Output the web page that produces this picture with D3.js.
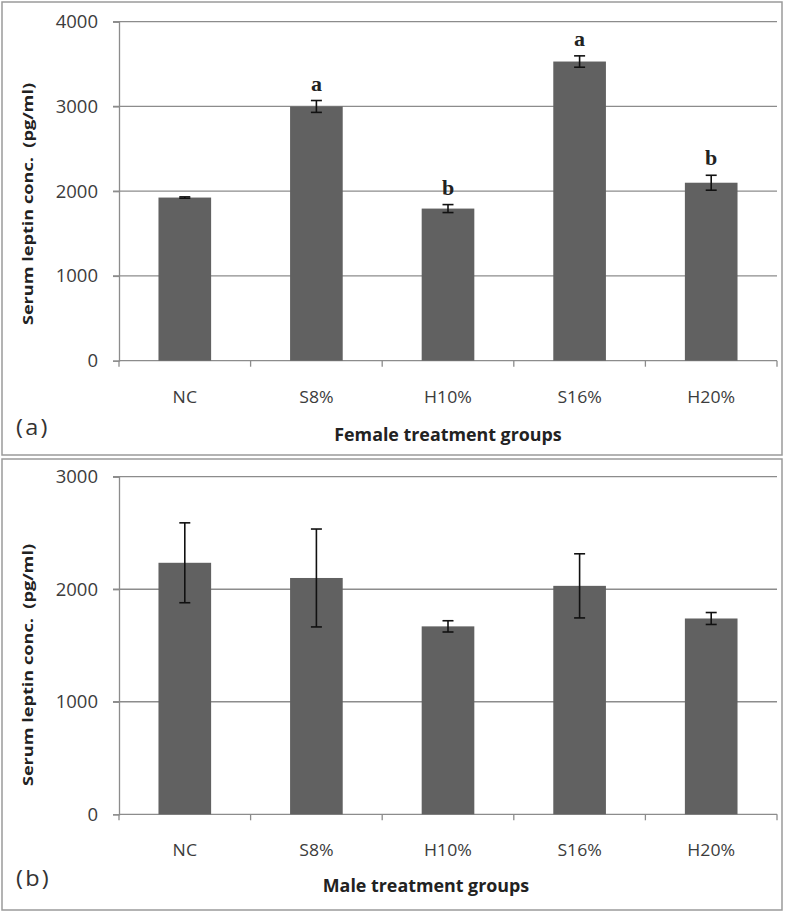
<!DOCTYPE html>
<html><head><meta charset="utf-8">
<script src="https://cdn.jsdelivr.net/npm/d3@7"></script>
<style>html,body{margin:0;padding:0;background:#fff;}svg{display:block;} text{white-space:pre;}</style>
</head><body>
<script>
const categories = ["NC", "S8%", "H10%", "S16%", "H20%"];
const femaleMeans = [1925, 3000, 1795, 3530, 2100];
const femaleErrors = [8, 70, 47, 67, 88];
const femaleLetters = ["", "a", "b", "a", "b"];
const femaleTicks = [0, 1000, 2000, 3000, 4000];
const maleMeans = [2235, 2100, 1670, 2030, 1740];
const maleErrors = [355, 435, 50, 285, 53];
const maleLetters = ["", "", "", "", ""];
const maleTicks = [0, 1000, 2000, 3000];

const W = 787, H = 913;
const svg = d3.select("body").append("svg").attr("width", W).attr("height", H);
const FONT = "'Open Sans', sans-serif";

function panel(cfg) {
  const g = svg.append("g");
  g.append("rect").attr("x", 2).attr("y", cfg.boxTop).attr("width", 780).attr("height", cfg.boxBottom - cfg.boxTop)
    .attr("fill", "#fff").attr("stroke", "#9a9a9a").attr("stroke-width", 1.5);

  const x = d3.scaleBand().domain(categories).range([119, 777]).paddingInner(0.6).paddingOuter(0.3);
  const y = d3.scaleLinear().domain([0, cfg.max]).range([cfg.y0, cfg.y1]);

  g.selectAll("line.grid").data(cfg.ticks.filter(t => t > 0)).enter().append("line")
    .attr("x1", 113).attr("x2", 777).attr("y1", d => y(d)).attr("y2", d => y(d))
    .attr("stroke", "#8c8c8c").attr("stroke-width", 1.3);

  const yAxis = d3.axisLeft(y).tickValues(cfg.ticks).tickSize(6).tickPadding(15).tickFormat(d3.format("d"));
  const ya = g.append("g").attr("transform", "translate(119,0)").call(yAxis)
    .attr("font-family", FONT).attr("font-size", 18.5);
  ya.select(".domain").attr("stroke", "#8c8c8c").attr("stroke-width", 1.3);
  ya.selectAll(".tick line").attr("stroke", "#8c8c8c").attr("stroke-width", 1.3);
  ya.selectAll(".tick text").attr("font-family", FONT).attr("font-size", 18.5).attr("fill", "#3c3c3c");

  const step = x.step();
  const bounds = d3.range(categories.length + 1).map(i => 119 + i * step);
  g.append("line").attr("x1", 119).attr("x2", 777).attr("y1", y(0)).attr("y2", y(0))
    .attr("stroke", "#8c8c8c").attr("stroke-width", 1.3);
  g.selectAll("line.xt").data(bounds).enter().append("line")
    .attr("x1", d => d).attr("x2", d => d).attr("y1", y(0)).attr("y2", y(0) + 6)
    .attr("stroke", "#8c8c8c").attr("stroke-width", 1.3);

  g.selectAll("g.xl").data(categories).enter().append("g")
    .attr("transform", d => `translate(${x(d) + x.bandwidth() / 2},${cfg.xLabelY}) scale(1.07,1)`)
    .append("text").attr("text-anchor", "middle").attr("font-family", FONT).attr("font-size", 16.5)
    .attr("fill", "#3c3c3c").text(d => d);

  g.selectAll("rect.bar").data(cfg.means).enter().append("rect")
    .attr("x", (d, i) => x(categories[i])).attr("width", x.bandwidth())
    .attr("y", d => y(d)).attr("height", d => y(0) - y(d)).attr("fill", "#616161");

  const eb = g.selectAll("g.eb").data(cfg.means).enter().append("g")
    .attr("stroke", "#111").attr("stroke-width", 1.6);
  eb.append("line").attr("x1", (d, i) => x(categories[i]) + x.bandwidth() / 2)
    .attr("x2", (d, i) => x(categories[i]) + x.bandwidth() / 2)
    .attr("y1", (d, i) => y(d + cfg.errors[i])).attr("y2", (d, i) => y(d - cfg.errors[i]));
  [1, -1].forEach(s => {
    eb.append("line").attr("x1", (d, i) => x(categories[i]) + x.bandwidth() / 2 - 5.5)
      .attr("x2", (d, i) => x(categories[i]) + x.bandwidth() / 2 + 5.5)
      .attr("y1", (d, i) => y(d + s * cfg.errors[i])).attr("y2", (d, i) => y(d + s * cfg.errors[i]));
  });

  g.selectAll("text.sig").data(cfg.means).enter().append("text")
    .attr("x", (d, i) => x(categories[i]) + x.bandwidth() / 2)
    .attr("y", (d, i) => y(d + cfg.errors[i]) - 10)
    .attr("text-anchor", "middle").attr("font-family", "'Liberation Serif', serif")
    .attr("font-weight", "bold").attr("font-size", 22).attr("fill", "#222")
    .text((d, i) => cfg.letters[i]);

  g.append("g").attr("transform", `translate(${cfg.yTitleX},${cfg.yTitleY}) rotate(-90) scale(1.25,1)`)
    .append("text").attr("text-anchor", "middle").attr("font-family", FONT).attr("font-weight", "bold")
    .attr("font-size", 14.5).attr("fill", "#222").text("Serum leptin conc.  (pg/ml)");

  g.append("g").attr("transform", `translate(${cfg.xTitleX},${cfg.xTitleY}) scale(1.05,1)`)
    .append("text").attr("text-anchor", "middle")
    .attr("font-family", FONT).attr("font-weight", "bold").attr("font-size", 17).attr("fill", "#222")
    .text(cfg.xTitle);

  g.append("g").attr("transform", `translate(16,${cfg.tagY}) scale(1.12,1)`)
    .append("text").attr("font-family", FONT)
    .attr("font-size", 21).attr("letter-spacing", 2).attr("fill", "#333").text(cfg.tag);
}

panel({boxTop: 2, boxBottom: 455, max: 4000, ticks: femaleTicks, y0: 360.7, y1: 21.7,
  means: femaleMeans, errors: femaleErrors, letters: femaleLetters, xLabelY: 403,
  yTitleX: 33, yTitleY: 204, xTitle: "Female treatment groups", xTitleX: 448, xTitleY: 441,
  tag: "(a)", tagY: 435});
panel({boxTop: 459, boxBottom: 910, max: 3000, ticks: maleTicks, y0: 814.3, y1: 476.7,
  means: maleMeans, errors: maleErrors, letters: maleLetters, xLabelY: 856,
  yTitleX: 33, yTitleY: 665, xTitle: "Male treatment groups", xTitleX: 426, xTitleY: 892,
  tag: "(b)", tagY: 886});
</script>
</body></html>
